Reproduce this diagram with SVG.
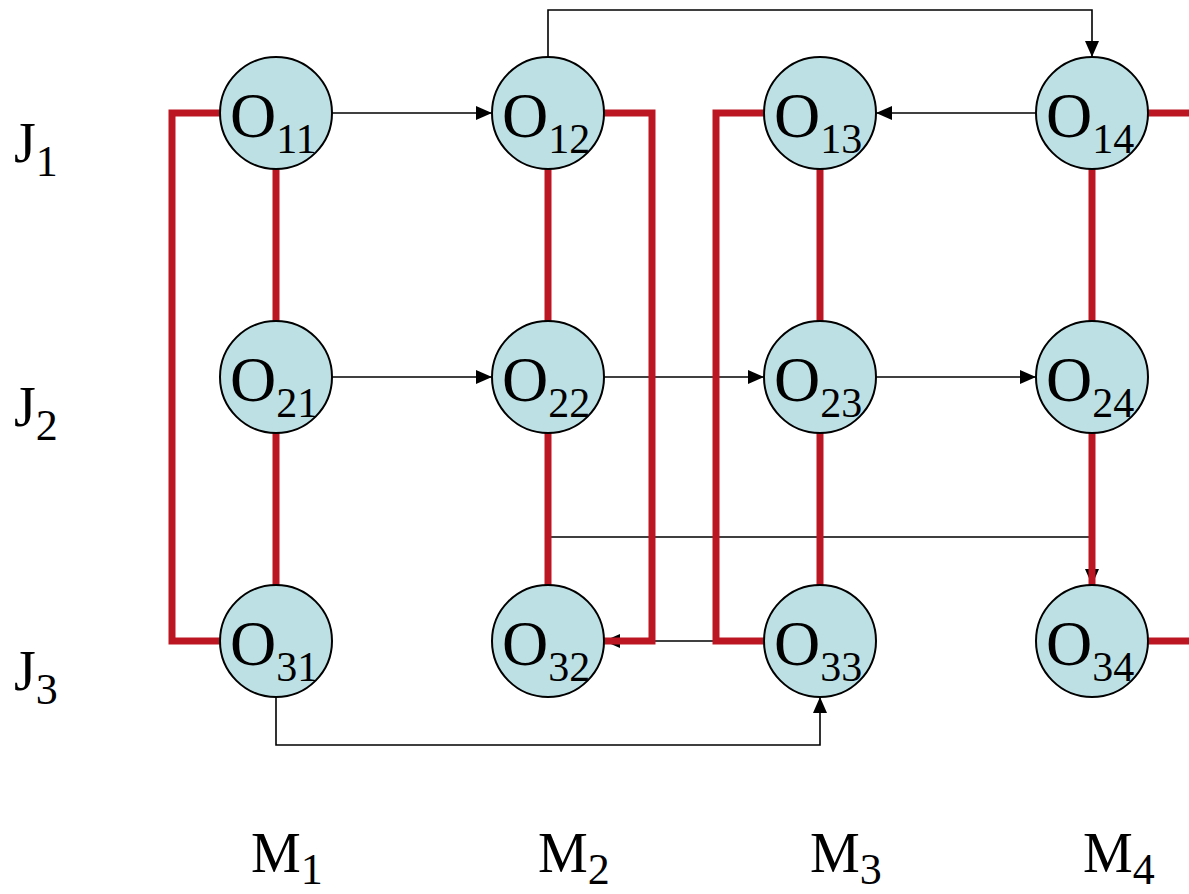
<svg xmlns="http://www.w3.org/2000/svg" width="1189" height="894" viewBox="0 0 1189 894">
<style>
.node circle{fill:#BCE0E4;stroke:#000;stroke-width:2}
.lbl{font-family:"Liberation Serif","Times New Roman",serif;fill:#000}
.o{font-size:64px}
.sub{font-size:42px}
.big{font-size:56px}
.bsub{font-size:44px}
.blk{fill:none;stroke:#000;stroke-width:1.6}
.red{fill:none;stroke:#BB1622;stroke-width:7;stroke-linejoin:miter}
</style>
<defs>
<marker id="ah" markerUnits="userSpaceOnUse" markerWidth="16" markerHeight="14" refX="16" refY="7" orient="auto">
<path d="M0,0 L16,7 L0,14 z" fill="#000"/>
</marker>
</defs>
<g id="connectors">
<path class="blk" d="M332,113 H492" marker-end="url(#ah)"/>
<path class="blk" d="M1036,113 H876" marker-end="url(#ah)"/>
<path class="blk" d="M548,57 V10 H1092 V57" marker-end="url(#ah)"/>
<path class="blk" d="M332,377 H492" marker-end="url(#ah)"/>
<path class="blk" d="M604,377 H764" marker-end="url(#ah)"/>
<path class="blk" d="M876,377 H1036" marker-end="url(#ah)"/>
<path class="blk" d="M548,433 V537 H1092 V585" marker-end="url(#ah)"/>
<path class="blk" d="M764,641 H604" marker-end="url(#ah)"/>
<path class="blk" d="M276,697 V745 H820 V697" marker-end="url(#ah)"/>
<path class="red" d="M220,113 H172 V641 H220"/>
<path class="red" d="M276,169 V321 M276,433 V585"/>
<path class="red" d="M548,169 V321 M548,433 V585"/>
<path class="red" d="M604,113 H652 V641 H604"/>
<path class="red" d="M764,113 H716 V641 H764"/>
<path class="red" d="M820,169 V321 M820,433 V585"/>
<path class="red" d="M1092,169 V321 M1092,433 V585"/>
<path class="red" d="M1148,113 H1189 M1148,641 H1189"/>
</g>
<g id="O11" class="node"><circle cx="276" cy="113" r="56"/><text class="lbl o" x="230" y="137">O<tspan class="sub" dy="16">11</tspan></text></g>
<g id="O12" class="node"><circle cx="548" cy="113" r="56"/><text class="lbl o" x="502" y="137">O<tspan class="sub" dy="16">12</tspan></text></g>
<g id="O13" class="node"><circle cx="820" cy="113" r="56"/><text class="lbl o" x="774" y="137">O<tspan class="sub" dy="16">13</tspan></text></g>
<g id="O14" class="node"><circle cx="1092" cy="113" r="56"/><text class="lbl o" x="1046" y="137">O<tspan class="sub" dy="16">14</tspan></text></g>
<g id="O21" class="node"><circle cx="276" cy="377" r="56"/><text class="lbl o" x="230" y="401">O<tspan class="sub" dy="16">21</tspan></text></g>
<g id="O22" class="node"><circle cx="548" cy="377" r="56"/><text class="lbl o" x="502" y="401">O<tspan class="sub" dy="16">22</tspan></text></g>
<g id="O23" class="node"><circle cx="820" cy="377" r="56"/><text class="lbl o" x="774" y="401">O<tspan class="sub" dy="16">23</tspan></text></g>
<g id="O24" class="node"><circle cx="1092" cy="377" r="56"/><text class="lbl o" x="1046" y="401">O<tspan class="sub" dy="16">24</tspan></text></g>
<g id="O31" class="node"><circle cx="276" cy="641" r="56"/><text class="lbl o" x="230" y="665">O<tspan class="sub" dy="16">31</tspan></text></g>
<g id="O32" class="node"><circle cx="548" cy="641" r="56"/><text class="lbl o" x="502" y="665">O<tspan class="sub" dy="16">32</tspan></text></g>
<g id="O33" class="node"><circle cx="820" cy="641" r="56"/><text class="lbl o" x="774" y="665">O<tspan class="sub" dy="16">33</tspan></text></g>
<g id="O34" class="node"><circle cx="1092" cy="641" r="56"/><text class="lbl o" x="1046" y="665">O<tspan class="sub" dy="16">34</tspan></text></g>
<g id="labels">
<text class="lbl big" x="14" y="162">J<tspan class="bsub" dy="14">1</tspan></text>
<text class="lbl big" x="14" y="426">J<tspan class="bsub" dy="14">2</tspan></text>
<text class="lbl big" x="14" y="690">J<tspan class="bsub" dy="14">3</tspan></text>
<text class="lbl big" x="251" y="872">M<tspan class="bsub" dy="12">1</tspan></text>
<text class="lbl big" x="538" y="872">M<tspan class="bsub" dy="12">2</tspan></text>
<text class="lbl big" x="810" y="872">M<tspan class="bsub" dy="12">3</tspan></text>
<text class="lbl big" x="1083" y="872">M<tspan class="bsub" dy="12">4</tspan></text>
</g>
</svg>
